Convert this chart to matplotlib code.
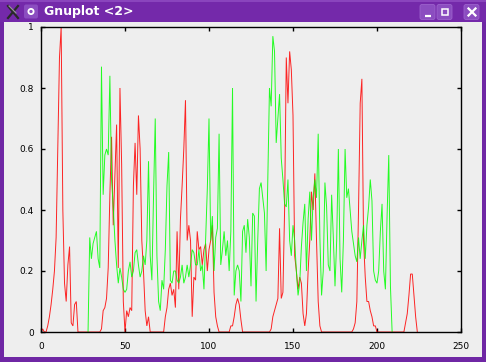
import numpy as np
import matplotlib
matplotlib.use("Agg")
import matplotlib.pyplot as plt
from matplotlib.patches import Rectangle, FancyBboxPatch, Circle

# ---------------- data ----------------
red_start = 0
red_vals = [
    0.0, 0.01, 0.0, 0.0, 0.02, 0.05, 0.09, 0.14, 0.2, 0.31,
    0.6, 0.9, 1.0, 0.4, 0.16, 0.1, 0.22, 0.28, 0.03, 0.02,
    0.09, 0.1, 0.0, 0.0, 0.0, 0.0, 0.0, 0.0, 0.0, 0.0,
    0.0, 0.0, 0.0, 0.0, 0.0, 0.0, 0.01, 0.07, 0.08, 0.11,
    0.21, 0.45, 0.64, 0.35, 0.52, 0.68, 0.21, 0.8, 0.55, 0.1,
    0.0, 0.07, 0.05, 0.08, 0.07, 0.48, 0.62, 0.45, 0.71, 0.6,
    0.3, 0.2, 0.07, 0.02, 0.05, 0.0, 0.0, 0.0, 0.0, 0.0,
    0.0, 0.0, 0.0, 0.0, 0.05, 0.08, 0.14, 0.16, 0.12, 0.14,
    0.08, 0.33, 0.14, 0.37, 0.48, 0.6, 0.76, 0.3, 0.35, 0.3,
    0.05, 0.18, 0.17, 0.33, 0.27, 0.28, 0.22, 0.27, 0.29, 0.2,
    0.27, 0.3, 0.35, 0.13, 0.05, 0.02, 0.0, 0.0, 0.0, 0.0,
    0.0, 0.0, 0.0, 0.02, 0.02, 0.05, 0.09, 0.11, 0.09, 0.04,
    0.0, 0.0, 0.0, 0.0, 0.0, 0.0, 0.0, 0.0, 0.0, 0.0,
    0.0, 0.0, 0.0, 0.0, 0.0, 0.0, 0.0, 0.01, 0.05, 0.07,
    0.09, 0.11, 0.34, 0.11, 0.13, 0.4, 0.9, 0.75, 0.92, 0.86,
    0.71, 0.25, 0.2, 0.14, 0.18, 0.16, 0.06, 0.02, 0.06, 0.2,
    0.3, 0.46, 0.4, 0.52, 0.3, 0.1, 0.02, 0.0, 0.0, 0.0,
    0.0, 0.0, 0.0, 0.0, 0.0, 0.0, 0.0, 0.0, 0.0, 0.0,
    0.0, 0.0, 0.0, 0.0, 0.0, 0.0, 0.01, 0.03, 0.1, 0.4,
    0.75, 0.83, 0.3, 0.18, 0.1, 0.1, 0.07, 0.05, 0.02, 0.02,
    0.0, 0.0, 0.0, 0.0, 0.0, 0.0, 0.0, 0.0, 0.0, 0.0,
    0.0, 0.0, 0.0, 0.0, 0.0, 0.0, 0.0, 0.03, 0.06, 0.12,
    0.19, 0.19, 0.12, 0.05, 0.0,
]

green_start = 28
green_vals = [
    0.0, 0.31, 0.24, 0.29, 0.31, 0.33, 0.24, 0.21, 0.87, 0.45,
    0.58, 0.6, 0.58, 0.84, 0.5, 0.41, 0.3, 0.22, 0.16, 0.21,
    0.18, 0.14, 0.13, 0.14, 0.2, 0.23, 0.18, 0.2, 0.26, 0.27,
    0.22, 0.18, 0.2, 0.25, 0.22, 0.3, 0.56, 0.25, 0.17, 0.45,
    0.7, 0.25, 0.1, 0.07, 0.17, 0.14, 0.27, 0.48, 0.59, 0.17,
    0.16, 0.2, 0.2, 0.17, 0.16, 0.18, 0.22, 0.16, 0.18, 0.22,
    0.18, 0.22, 0.27, 0.26, 0.22, 0.22, 0.27, 0.2, 0.22, 0.14,
    0.3, 0.47, 0.7, 0.3, 0.38, 0.2, 0.31, 0.34, 0.65, 0.22,
    0.27, 0.33, 0.25, 0.3, 0.2, 0.33, 0.8, 0.12, 0.2, 0.22,
    0.2, 0.1, 0.33, 0.35, 0.26, 0.37, 0.31, 0.15, 0.39, 0.38,
    0.1, 0.3, 0.47, 0.49, 0.44, 0.39, 0.2, 0.5, 0.8, 0.74,
    0.97, 0.92, 0.62, 0.7, 0.78, 0.57, 0.5, 0.42, 0.41, 0.5,
    0.3, 0.25, 0.35, 0.3, 0.2, 0.12, 0.16, 0.28, 0.36, 0.42,
    0.2, 0.37, 0.46, 0.3, 0.44, 0.5, 0.44, 0.65, 0.31, 0.12,
    0.2, 0.49, 0.41, 0.22, 0.2, 0.45, 0.31, 0.15, 0.3, 0.6,
    0.24, 0.13, 0.3, 0.6, 0.44, 0.47, 0.4, 0.33, 0.29, 0.25,
    0.23, 0.31, 0.24, 0.3, 0.35, 0.24, 0.35, 0.41, 0.5, 0.43,
    0.2, 0.17, 0.16, 0.2, 0.33, 0.42, 0.2, 0.14, 0.38, 0.58,
    0.15, 0.0,
]

x_ticks = [0, 50, 100, 150, 200, 250]
x_tick_labels = ["0", "50", "100", "150", "200", "250"]
y_ticks = [0, 0.2, 0.4, 0.6, 0.8, 1]
y_tick_labels = ["0", "0.2", "0.4", "0.6", "0.8", "1"]
window_title = "Gnuplot <2>"

red_x = np.arange(red_start, red_start + len(red_vals))
green_x = np.arange(green_start, green_start + len(green_vals))

# ---------------- figure / window frame ----------------
W, H = 486, 362
fig = plt.figure(figsize=(W / 100, H / 100), dpi=100)
purple = "#6f27a4"
fig.patch.set_facecolor(purple)

frame = fig.add_axes([0, 0, 1, 1])
frame.set_xlim(0, W)
frame.set_ylim(H, 0)
frame.axis("off")
# content area
frame.add_patch(Rectangle((4, 22), W - 8, H - 22 - 5, facecolor="#eeeeee",
                          edgecolor="none"))
# title bar (slightly lighter top)
frame.add_patch(Rectangle((0, 0), W, 22, facecolor="#7429aa", edgecolor="none"))
frame.add_patch(Rectangle((0, 0), W, 2, facecolor="#8a45bd", edgecolor="none"))

# left icons
frame.plot([8, 18], [6, 18], color="#2a2a2a", lw=1.6)
frame.plot([8, 18], [18, 6], color="#2a2a2a", lw=1.6)
frame.plot([9, 16], [6, 13], color="#9a9a9a", lw=0.8)
frame.add_patch(FancyBboxPatch((24, 4.5), 14, 14, boxstyle="round,pad=0,rounding_size=2",
                               facecolor="#8b4dc0", edgecolor="none"))
frame.add_patch(Circle((31, 11.5), 2.6, facecolor="none", edgecolor="white", lw=1.3))
frame.text(44, 12, window_title, color="white", fontsize=9, fontweight="bold",
           va="center", ha="left", family="DejaVu Sans")

# right buttons
for bx in (420, 437, 464):
    frame.add_patch(FancyBboxPatch((bx, 4.5), 15, 15, boxstyle="round,pad=0,rounding_size=2",
                                   facecolor="#8b4dc0", edgecolor="#9c62cc", lw=0.6))
frame.plot([424.5, 430.5], [15.5, 15.5], color="white", lw=1.6, solid_capstyle="butt")
frame.add_patch(Rectangle((441.5, 8.5), 6.5, 6.5, facecolor="none", edgecolor="white", lw=1.1))
frame.plot([468.5, 475.5], [8.5, 15.5], color="white", lw=1.6)
frame.plot([468.5, 475.5], [15.5, 8.5], color="white", lw=1.6)

# ---------------- plot area ----------------
ax_left, ax_right, ax_top, ax_bottom = 41, 461, 27, 332
ax = fig.add_axes([ax_left / W, (H - ax_bottom) / H,
                   (ax_right - ax_left) / W, (ax_bottom - ax_top) / H])
ax.set_facecolor("#eeeeee")

ax.plot(red_x, red_vals, color="#ff0000", lw=0.7, alpha=0.85, solid_joinstyle="miter")
ax.plot(green_x, green_vals, color="#00ff00", lw=0.7, alpha=0.85, solid_joinstyle="miter")

ax.set_xlim(0, 250)
ax.set_ylim(0, 1)
ax.set_xticks(x_ticks)
ax.set_xticklabels(x_tick_labels)
ax.set_yticks(y_ticks)
ax.set_yticklabels(y_tick_labels)
ax.tick_params(direction="in", length=3, width=1, top=True, right=True,
               labelsize=6.5, colors="black", pad=5)
ax.tick_params(axis="x", pad=7)
for s in ax.spines.values():
    s.set_color("black")
    s.set_linewidth(1.0)

fig.savefig("out.png", dpi=100, facecolor=fig.get_facecolor())
